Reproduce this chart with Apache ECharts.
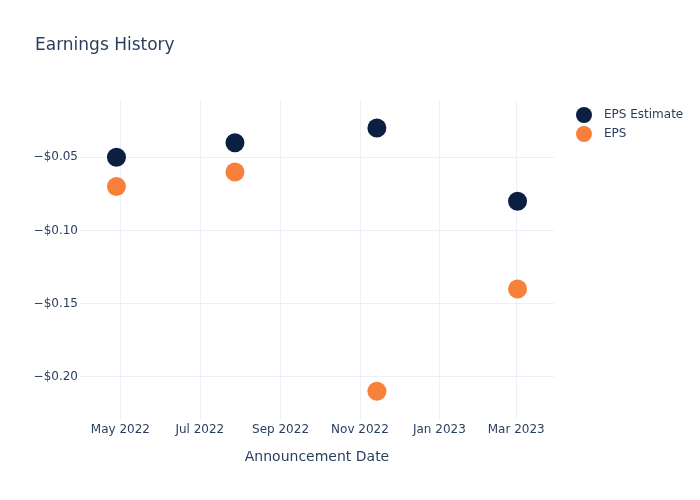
<!DOCTYPE html>
<html>
<head>
<meta charset="utf-8">
<script src="https://cdn.jsdelivr.net/npm/echarts@6/dist/echarts.min.js"></script>
<style>html,body{margin:0;padding:0;background:#fff}#c{width:700px;height:500px}</style>
</head>
<body>
<div id="c"></div>
<script>
const dates = ['2022-04-28', '2022-07-28', '2022-11-14', '2023-03-02'];
const epsEstimate = [-0.05, -0.04, -0.03, -0.08];
const eps = [-0.07, -0.06, -0.21, -0.14];
const xTicks = ['2022-05-01', '2022-07-01', '2022-09-01', '2022-11-01', '2023-01-01', '2023-03-01'];
const yTicks = [-0.20, -0.15, -0.10, -0.05];
const monthNames = ['Jan','Feb','Mar','Apr','May','Jun','Jul','Aug','Sep','Oct','Nov','Dec'];

const FONT = '"DejaVu Sans", verdana, arial, sans-serif';
const TXT = '#2a3f5f';
const chart = echarts.init(document.getElementById('c'), null, {renderer: 'canvas'});
const toTs = s => { const p = s.split('-').map(Number); return Date.UTC(p[0], p[1]-1, p[2]); };

chart.setOption({
  animation: false,
  backgroundColor: '#fff',
  textStyle: {fontFamily: FONT, color: TXT},
  title: {
    text: 'Earnings History', left: 35, top: 37, padding: 0,
    textStyle: {fontFamily: FONT, fontSize: 17, fontWeight: 'normal', color: TXT}
  },
  legend: {
    orient: 'vertical', left: 576, top: 107, padding: 0, itemGap: 3,
    itemWidth: 18, itemHeight: 16, icon: 'circle',
    textStyle: {fontFamily: FONT, fontSize: 12, color: TXT, padding: [0, 0, 0, 6]},
    data: ['EPS Estimate', 'EPS']
  },
  grid: {left: 80, right: 146, top: 100, bottom: 80, containLabel: false},
  xAxis: {
    type: 'value',
    min: toTs('2022-03-31'), max: toTs('2023-03-30'),
    name: 'Announcement Date', nameLocation: 'middle', nameGap: 30,
    nameTextStyle: {fontFamily: FONT, fontSize: 14, color: TXT},
    axisLine: {show: false},
    axisTick: {show: false, customValues: xTicks.map(toTs)},
    axisLabel: {
      customValues: xTicks.map(toTs), margin: 4,
      fontFamily: FONT, fontSize: 12, color: TXT,
      formatter: v => { const d = new Date(v); return monthNames[d.getUTCMonth()] + ' ' + d.getUTCFullYear(); }
    },
    splitLine: {show: true, lineStyle: {color: '#ebf0f8', width: 1}}
  },
  yAxis: {
    type: 'value', min: -0.2296, max: -0.0108,
    axisLine: {show: false},
    axisTick: {show: false, customValues: yTicks},
    axisLabel: {
      customValues: yTicks, margin: 2,
      fontFamily: FONT, fontSize: 12, color: TXT,
      formatter: v => '\u2212$' + Math.abs(v).toFixed(2)
    },
    splitLine: {show: true, lineStyle: {color: '#ebf0f8', width: 1}}
  },
  series: [
    {name: 'EPS Estimate', type: 'scatter', symbolSize: 19,
     itemStyle: {color: '#0b1f40', opacity: 1},
     data: dates.map((d, i) => [toTs(d), epsEstimate[i]])},
    {name: 'EPS', type: 'scatter', symbolSize: 19,
     itemStyle: {color: '#f7813a', opacity: 1},
     data: dates.map((d, i) => [toTs(d), eps[i]])}
  ]
});
</script>
</body>
</html>
